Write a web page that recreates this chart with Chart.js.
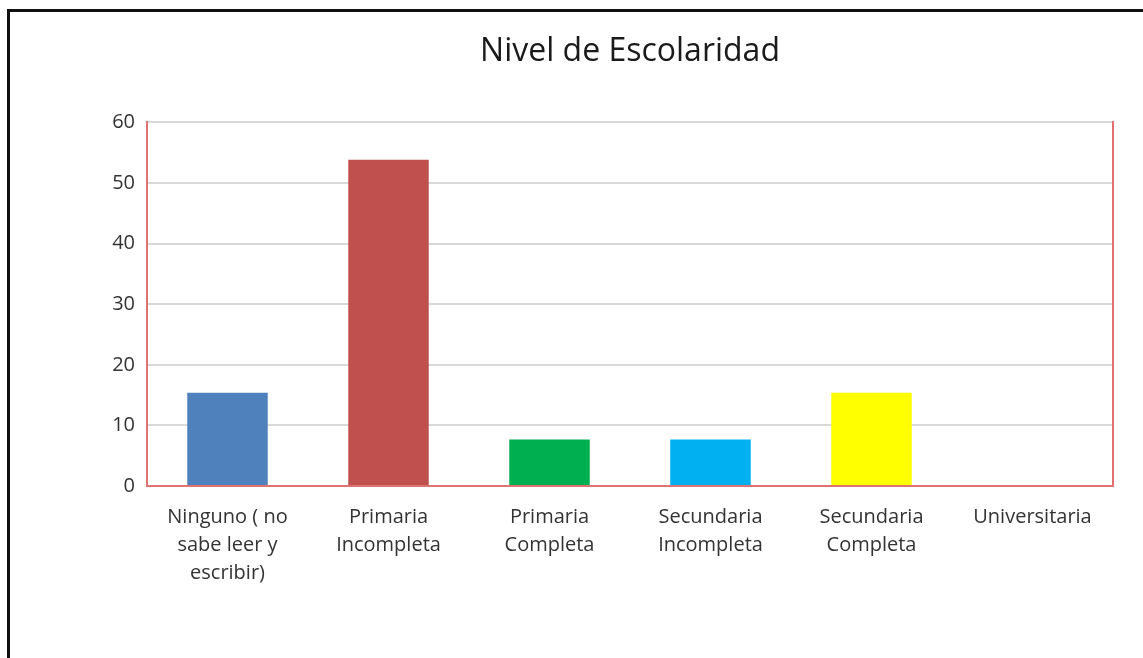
<!DOCTYPE html>
<html>
<head>
<meta charset="utf-8">
<script src="https://cdn.jsdelivr.net/npm/chart.js@4/dist/chart.umd.min.js"></script>
<style>
  html, body { margin: 0; padding: 0; background: #fff; overflow: hidden; }
  #wrap { position: absolute; left: 0; top: 0; width: 1143px; height: 658px; overflow: hidden; }
  #frame { position: absolute; left: 7px; top: 9px; width: 1200px; height: 700px;
           border-top: 3px solid #111; border-left: 3px solid #111; pointer-events: none; }
  canvas { position: absolute; left: 0; top: 0; }
</style>
</head>
<body>
<div id="wrap">
  <canvas id="c" width="1163" height="658"></canvas>
  <div id="frame"></div>
</div>
<script>
const categories = [
  ["Ninguno ( no", "sabe leer y", "escribir)"],
  ["Primaria", "Incompleta"],
  ["Primaria", "Completa"],
  ["Secundaria", "Incompleta"],
  ["Secundaria", "Completa"],
  ["Universitaria"]
];
const values = [15.38, 53.85, 7.69, 7.69, 15.38, 0];
const barColors = ["#4f81bd", "#c0504d", "#00b050", "#00b0f0", "#ffff00", "#8064a2"];
const chartTitle = "Nivel de Escolaridad";
const yMin = 0, yMax = 60, yStep = 10;

const FONT = "'Open Sans', 'Noto Sans', sans-serif";
const AXIS_RED = "#e07272";

new Chart(document.getElementById("c"), {
  type: "bar",
  data: {
    labels: categories,
    datasets: [{
      data: values,
      backgroundColor: barColors,
      borderWidth: 0,
      categoryPercentage: 1.0,
      barPercentage: 0.5,
      yAxisID: "y"
    }]
  },
  options: {
    responsive: false,
    animation: false,
    devicePixelRatio: 1,
    layout: { padding: { left: 97, right: 0, top: 0, bottom: 0 } },
    plugins: {
      legend: { display: false },
      tooltip: { enabled: false },
      title: {
        display: true,
        text: chartTitle,
        color: "#1a1a1a",
        font: { family: FONT, size: 32, weight: "normal", lineHeight: 1.2 },
        padding: { top: 33, bottom: 51 }
      }
    },
    scales: {
      x: {
        grid: { drawOnChartArea: false, drawTicks: false },
        border: { display: true, color: AXIS_RED, width: 2, z: 1 },
        ticks: {
          color: "#333",
          font: { family: FONT, size: 20, lineHeight: 1.4 },
          padding: 17,
          maxRotation: 0,
          autoSkip: false
        },
        afterFit: (s) => { s.height = 172; }
      },
      y: {
        min: yMin, max: yMax,
        grid: { color: "#d9d9d9", lineWidth: 2, drawTicks: false },
        border: { display: true, color: AXIS_RED, width: 2, z: 1 },
        ticks: {
          stepSize: yStep,
          color: "#333",
          font: { family: FONT, size: 20 },
          padding: 12
        },
        afterFit: (s) => { s.width = 50; }
      },
      y2: {
        position: "right",
        min: yMin, max: yMax,
        grid: { drawOnChartArea: false, drawTicks: false },
        border: { display: true, color: AXIS_RED, width: 2, z: 1 },
        ticks: { display: false },
        afterFit: (s) => { s.width = 50; }
      }
    }
  }
});
</script>
</body>
</html>
